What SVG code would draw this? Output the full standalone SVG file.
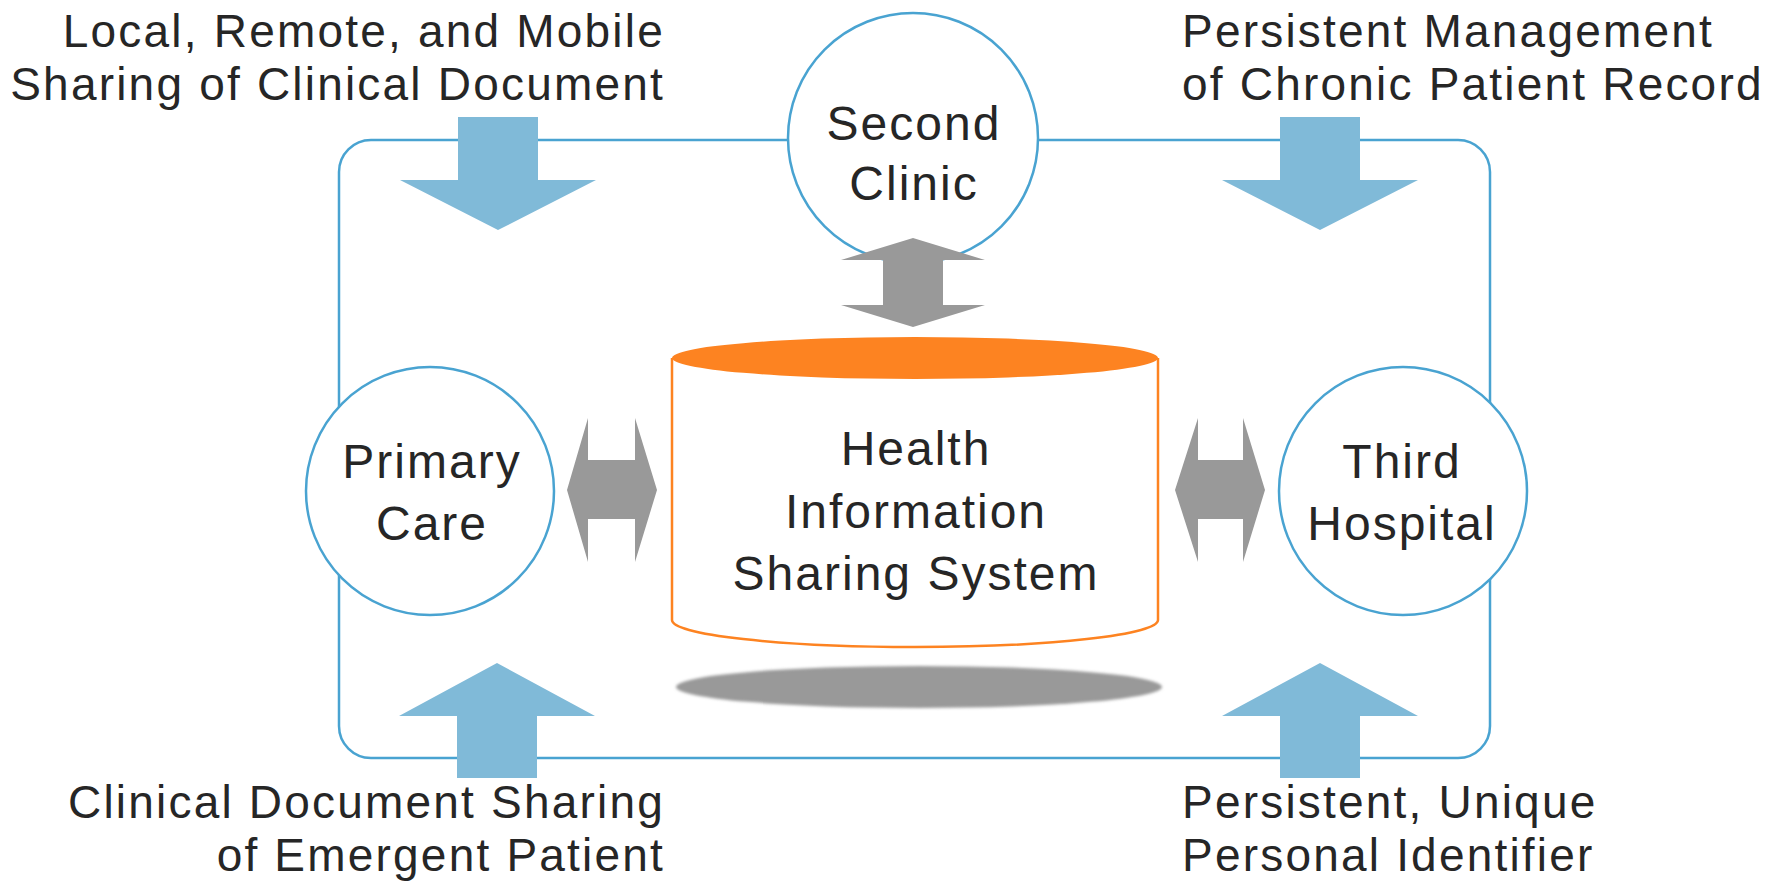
<svg xmlns="http://www.w3.org/2000/svg" width="1776" height="882" viewBox="0 0 1776 882">
<defs>
<style>
.lbl{font-family:"Liberation Sans",Arial,sans-serif;font-size:46px;letter-spacing:2.2px;fill:#262626}
.nlbl{font-family:"Liberation Sans",Arial,sans-serif;font-size:48px;letter-spacing:2px;fill:#262626;text-anchor:middle}
.ring{fill:#fff;stroke:#49a3d1;stroke-width:2.5}
.blue{fill:#80bad8}
.gray{fill:#999}
</style>
<filter id="soft" x="-5%" y="-30%" width="110%" height="160%"><feGaussianBlur stdDeviation="1.5"/></filter>
</defs>
<rect width="1776" height="882" fill="#fff"/>
<g id="connectors">
<rect x="339" y="140" width="1151" height="618" rx="32" ry="32" fill="none" stroke="#49a3d1" stroke-width="2.5"/>
</g>
<g id="primary-care">
<circle class="ring" cx="430" cy="491" r="124"/>
<text class="nlbl" x="432" y="478">Primary</text>
<text class="nlbl" x="432" y="540">Care</text>
</g>
<g id="third-hospital">
<circle class="ring" cx="1403" cy="491" r="124"/>
<text class="nlbl" x="1402" y="478">Third</text>
<text class="nlbl" x="1402" y="540">Hospital</text>
</g>
<g id="second-clinic">
<circle class="ring" cx="913" cy="138" r="125"/>
<text class="nlbl" x="914" y="140">Second</text>
<text class="nlbl" x="914" y="200">Clinic</text>
</g>
<g id="his">
<ellipse cx="919" cy="687" rx="243" ry="21" fill="#999" filter="url(#soft)"/>
<path d="M672,358 V620 A243,27 0 0 0 1158,620 V358" fill="#fff" stroke="#fd8321" stroke-width="2.5"/>
<ellipse cx="915" cy="358" rx="243" ry="21" fill="#fd8321"/>
<text class="nlbl" x="916" y="465">Health</text>
<text class="nlbl" x="916" y="528">Information</text>
<text class="nlbl" x="916" y="590">Sharing System</text>
</g>
<g id="links">
<path class="gray" d="M913,238 L985,260 H943 V305 H985 L913,327 L841,305 H883 V260 H841 Z"/>
<path class="gray" d="M567,490 L588,418 V460 H635 V418 L657,490 L635,562 V519 H588 V562 Z"/>
<path class="gray" d="M1175,490 L1198,418 V460 H1243 V418 L1265,490 L1243,562 V519 H1198 V562 Z"/>
</g>
<g id="note-top-left">
<path class="blue" d="M458,117 H538 V180 H596 L498,230 L400,180 H458 Z"/>
<text class="lbl" x="665" y="47" text-anchor="end">Local, Remote, and Mobile</text>
<text class="lbl" x="665" y="100" text-anchor="end">Sharing of Clinical Document</text>
</g>
<g id="note-top-right">
<path class="blue" d="M1280,117 H1360 V180 H1418 L1320,230 L1222,180 H1280 Z"/>
<text class="lbl" x="1182" y="47">Persistent Management</text>
<text class="lbl" x="1182" y="100">of Chronic Patient Record</text>
</g>
<g id="note-bottom-left">
<path class="blue" d="M497,663 L595,716 H537 V778 H457 V716 H399 Z"/>
<text class="lbl" x="665" y="818" text-anchor="end">Clinical Document Sharing</text>
<text class="lbl" x="665" y="871" text-anchor="end">of Emergent Patient</text>
</g>
<g id="note-bottom-right">
<path class="blue" d="M1320,663 L1418,716 H1360 V778 H1280 V716 H1222 Z"/>
<text class="lbl" x="1182" y="818">Persistent, Unique</text>
<text class="lbl" x="1182" y="871">Personal Identifier</text>
</g>
</svg>
